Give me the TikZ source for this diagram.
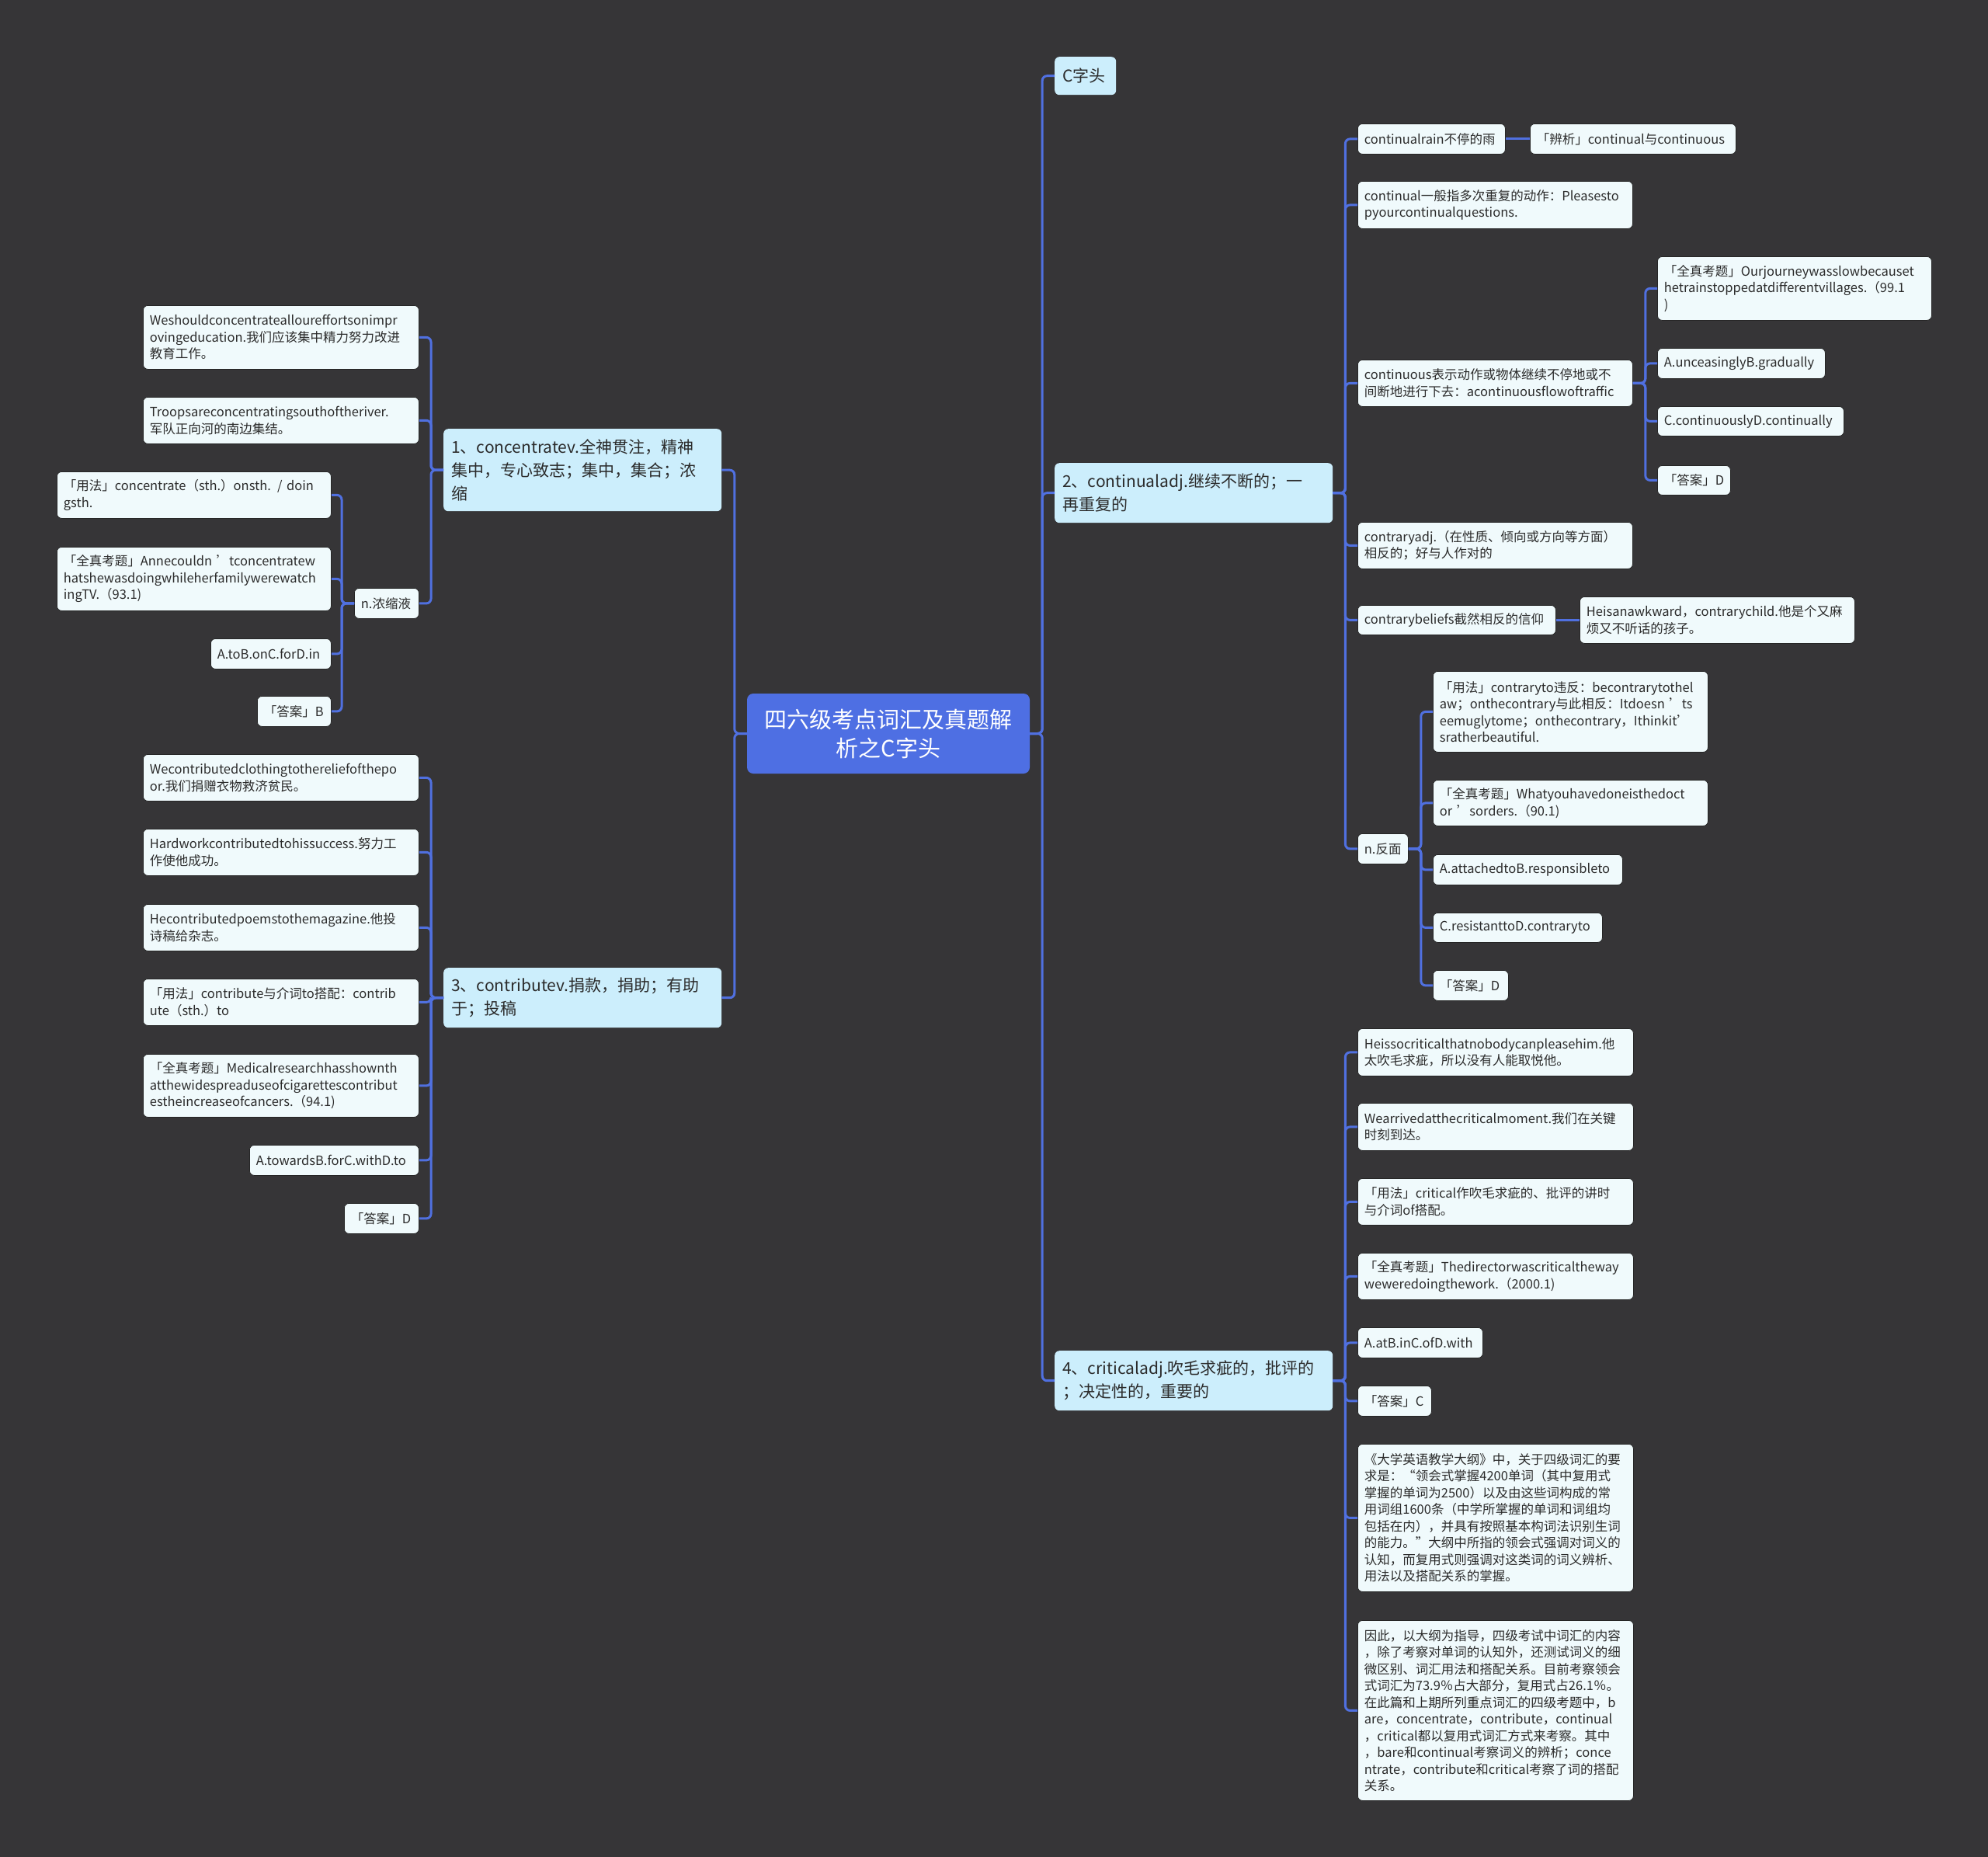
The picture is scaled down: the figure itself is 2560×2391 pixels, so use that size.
\documentclass[tikz,border=0pt]{standalone}
\usepackage{fontspec}
\setmainfont{Noto Sans CJK SC}
\definecolor{bgc}{HTML}{363537}
\definecolor{rootc}{HTML}{4E6FE3}
\definecolor{lonec}{HTML}{CCEEFC}
\definecolor{leafc}{HTML}{F0FAFC}
\definecolor{linec}{HTML}{5070E0}
\definecolor{textc}{HTML}{2B2B2B}
\definecolor{edgec}{HTML}{262626}
\newcommand\leaffont{\fontsize{16.5}{21.5}\selectfont\hyphenpenalty=10000\exhyphenpenalty=10000}
\newcommand\lonefont{\fontsize{21}{30}\selectfont\hyphenpenalty=10000\exhyphenpenalty=10000}
\newcommand\rootfont{\fontsize{29}{37}\selectfont}
\tikzset{
  conn/.style={draw=linec, line width=3pt, rounded corners=6pt},
  leaf/.style={rectangle, rounded corners=6pt, fill=leafc, draw=edgec, line width=0.8pt, text=textc, font=\leaffont,
    inner xsep=8.5pt, inner ysep=3pt, align=left, anchor=north west},
  lone/.style={rectangle, rounded corners=6pt, fill=lonec, text=textc, font=\lonefont,
    inner xsep=10pt, inner ysep=3pt, align=left, anchor=north west},
  rootbox/.style={rectangle, rounded corners=8pt, fill=rootc, text=white, font=\rootfont,
    inner sep=4pt, align=center, anchor=center}
}
\begin{document}
\begin{tikzpicture}[x=1pt,y=-1pt]
\path[use as bounding box, fill=bgc] (0,0) rectangle (2560,2391);

% root
\node[rootbox, minimum width=364pt, minimum height=103pt] (root) at (1144,944.5) {四六级考点词汇及真题解\\析之C字头};

% level 1
\node[lone, text width=59pt, minimum height=49pt] (c0) at (1358,73) {C字头};
\node[lone, text width=338pt, minimum height=77pt] (c2) at (1358,596) {2、continualadj.继续不断的；一\\再重复的};
\node[lone, text width=338pt, minimum height=106pt] (c1) at (571,552) {1、concentratev.全神贯注，精神\\集中，专心致志；集中，集合；浓\\缩};
\node[lone, text width=338pt, minimum height=77pt] (c3) at (571,1246) {3、contributev.捐款，捐助；有助\\于；投稿};
\node[lone, text width=338pt, minimum height=77pt] (c4) at (1358,1739) {4、criticaladj.吹毛求疵的，批评的\\；决定性的，重要的};

% children of c1
\node[leaf, text width=338pt, minimum height=82pt] (a1) at (184,393) {Weshouldconcentrateallour{}effortsonimpr\\ovingeducation.我们应该集中精力努力改进\\教育工作。};
\node[leaf, text width=338pt, minimum height=60pt] (a2) at (184,511) {Troopsareconcentratingsouthoftheriver.\\军队正向河的南边集结。};
\node[leaf, text width=66pt, minimum height=39pt] (a3) at (456,757) {n.浓缩液};
\node[leaf, text width=336pt, minimum height=60pt] (a31) at (73,607) {「用法」concentrate（sth.）onsth. / doin\\gsth.};
\node[leaf, text width=336pt, minimum height=82pt] (a32) at (73,704) {「全真考题」Annecouldn ’tconcentratew\\hatshewasdoingwhileherfamilywerewatch\\ingTV.（93.1)};
\node[leaf, text width=138pt, minimum height=39pt] (a33) at (271,822) {A.toB.onC.forD.in};
\node[leaf, text width=78pt, minimum height=39pt] (a34) at (331,896) {「答案」B};

% children of c3
\node[leaf, text width=338pt, minimum height=60pt] (b1) at (184,971) {Wecontributedclothingtothereliefofthepo\\or.我们捐赠衣物救济贫民。};
\node[leaf, text width=338pt, minimum height=60pt] (b2) at (184,1067) {Hardworkcontributedtohissuccess.努力工\\作使他成功。};
\node[leaf, text width=338pt, minimum height=60pt] (b3) at (184,1164) {Hecontributedpoemstothemagazine.他投\\诗稿给杂志。};
\node[leaf, text width=338pt, minimum height=60pt] (b4) at (184,1260) {「用法」contribute与介词to搭配：contrib\\ute（sth.）to};
\node[leaf, text width=338pt, minimum height=81pt] (b5) at (184,1357) {「全真考题」Medicalresearchhasshownth\\atthewidespreaduseofcigarettescontribut\\estheincreaseofcancers.（94.1)};
\node[leaf, text width=201pt, minimum height=39pt] (b6) at (321,1474) {A.towardsB.forC.withD.to};
\node[leaf, text width=79pt, minimum height=39pt] (b7) at (443,1549) {「答案」D};

% children of c2
\node[leaf, text width=173pt, minimum height=39pt] (d1) at (1748,159) {continualrain不停的雨};
\node[leaf, text width=248pt, minimum height=39pt] (d1a) at (1970,159) {「辨析」continual与continuous};
\node[leaf, text width=337pt, minimum height=61pt] (d2) at (1748,233) {continual一般指多次重复的动作：Pleasesto\\pyourcontinualquestions.};
\node[leaf, text width=337pt, minimum height=60pt] (d3) at (1748,463) {continuous表示动作或物体继续不停地或不\\间断地进行下去：acontinuousflowoftraffic};
\node[leaf, text width=336pt, minimum height=82pt] (d31) at (2134,330) {「全真考题」Ourjourneywasslowbecauset\\hetrainstoppedatdifferentvillages.（99.1\\)};
\node[leaf, text width=199pt, minimum height=39pt] (d32) at (2134,448) {A.unceasinglyB.gradually};
\node[leaf, text width=223pt, minimum height=38pt] (d33) at (2134,523) {C.continuouslyD.continually};
\node[leaf, text width=77pt, minimum height=38pt] (d34) at (2134,599) {「答案」D};
\node[leaf, text width=337pt, minimum height=60pt] (d4) at (1748,672) {contraryadj.（在性质、倾向或方向等方面）\\相反的；好与人作对的};
\node[leaf, text width=238pt, minimum height=38pt] (d5) at (1748,779) {contrarybeliefs截然相反的信仰};
\node[leaf, text width=337pt, minimum height=60pt] (d5a) at (2034,768) {Heisanawkward，contrarychild.他是个又麻\\烦又不听话的孩子。};
\node[leaf, text width=48pt, minimum height=39pt] (d6) at (1748,1073) {n.反面};
\node[leaf, text width=337pt, minimum height=104pt] (d61) at (1845,864) {「用法」contraryto违反：becontrarytothel\\aw；onthecontrary与此相反：Itdoesn ’ts\\eemuglytome；onthecontrary，Ithinkit’\\sratherbeautiful.};
\node[leaf, text width=337pt, minimum height=59pt] (d62) at (1845,1004) {「全真考题」Whatyouhavedoneisthedoct\\or ’sorders.（90.1)};
\node[leaf, text width=227pt, minimum height=39pt] (d63) at (1845,1100) {A.attachedtoB.responsibleto};
\node[leaf, text width=201pt, minimum height=38pt] (d64) at (1845,1175) {C.resistanttoD.contraryto};
\node[leaf, text width=80pt, minimum height=39pt] (d65) at (1845,1249) {「答案」D};

% children of c4
\node[leaf, text width=338pt, minimum height=61pt] (e1) at (1748,1324) {Heissocriticalthatnobodycanpleasehim.他\\太吹毛求疵，所以没有人能取悦他。};
\node[leaf, text width=338pt, minimum height=61pt] (e2) at (1748,1420) {Wearrivedatthecriticalmoment.我们在关键\\时刻到达。};
\node[leaf, text width=338pt, minimum height=60pt] (e3) at (1748,1517) {「用法」critical作吹毛求疵的、批评的讲时\\与介词of搭配。};
\node[leaf, text width=338pt, minimum height=60pt] (e4) at (1748,1613) {「全真考题」Thedirectorwascriticaltheway\\weweredoingthework.（2000.1)};
\node[leaf, text width=144pt, minimum height=39pt] (e5) at (1748,1709) {A.atB.inC.ofD.with};
\node[leaf, text width=78pt, minimum height=39pt] (e6) at (1748,1784) {「答案」C};
\node[leaf, text width=338pt, minimum height=190pt] (e7) at (1748,1859) {《大学英语教学大纲》中，关于四级词汇的要\\求是：“领会式掌握4200单词（其中复用式\\掌握的单词为2500）以及由这些词构成的常\\用词组1600条（中学所掌握的单词和词组均\\包括在内），并具有按照基本构词法识别生词\\的能力。”大纲中所指的领会式强调对词义的\\认知，而复用式则强调对这类词的词义辨析、\\用法以及搭配关系的掌握。};
\node[leaf, text width=338pt, minimum height=232pt] (e8) at (1748,2086) {因此，以大纲为指导，四级考试中词汇的内容\\，除了考察对单词的认知外，还测试词义的细\\微区别、词汇用法和搭配关系。目前考察领会\\式词汇为73.9％占大部分，复用式占26.1％。\\在此篇和上期所列重点词汇的四级考题中，b\\are，concentrate，contribute，continual\\，critical都以复用式词汇方式来考察。其中\\，bare和continual考察词义的辨析；conce\\ntrate，contribute和critical考察了词的搭配\\关系。};

% connectors: root
\foreach \c in {c0,c2,c4} \draw[conn] (root.east) -- ++(16,0) |- (\c.west);
\foreach \c in {c1,c3} \draw[conn] (root.west) -- ++(-16,0) |- (\c.east);
% c1
\foreach \c in {a1,a2,a3} \draw[conn] (c1.west) -- ++(-16,0) |- (\c.east);
\foreach \c in {a31,a32,a33,a34} \draw[conn] (a3.west) -- ++(-16,0) |- (\c.east);
% c3
\foreach \c in {b1,b2,b3,b4,b5,b6,b7} \draw[conn] (c3.west) -- ++(-16,0) |- (\c.east);
% c2
\foreach \c in {d1,d2,d3,d4,d5,d6} \draw[conn] (c2.east) -- ++(16,0) |- (\c.west);
\draw[conn] (d1.east) -- (d1a.west);
\draw[conn] (d5.east) -- (d5a.west);
\foreach \c in {d31,d32,d33,d34} \draw[conn] (d3.east) -- ++(16,0) |- (\c.west);
\foreach \c in {d61,d62,d63,d64,d65} \draw[conn] (d6.east) -- ++(16,0) |- (\c.west);
% c4
\foreach \c in {e1,e2,e3,e4,e5,e6,e7,e8} \draw[conn] (c4.east) -- ++(16,0) |- (\c.west);
\end{tikzpicture}
\end{document}
